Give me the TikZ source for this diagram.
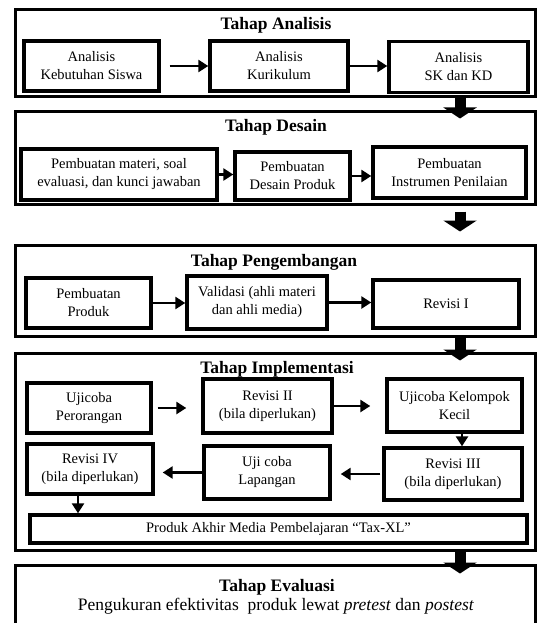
\documentclass[tikz,border=0pt]{standalone}
\usepackage{fontspec}
\setmainfont{Liberation Serif}
\usetikzlibrary{arrows.meta}
\tikzset{
  stage/.style={draw, line width=3pt, inner sep=0pt},
  stepbox/.style={draw, line width=3.4pt, align=center, inner sep=0pt,
    font=\fontsize{14.5}{18}\selectfont},
  stagetitle/.style={inner sep=0pt, font=\fontsize{17.5}{21}\selectfont\bfseries},
  flow/.style={line width=2.8pt, -{Triangle[length=10pt,width=12pt]}},
  bigflow/.style={line width=11pt, -{Triangle[length=11pt,width=33pt]}},
}

\begin{document}
\begin{tikzpicture}[x=1pt, y=-1pt]

  \clip (0,0) rectangle (539,623);
  \fill[white] (0,0) rectangle (539,623);
  \coordinate (bx) at (460,0);
  \coordinate (dx) at (462,0);

  % Stages
  \node[stage, minimum width=520pt, minimum height=87pt] (analisis) at (275,53.5) {};
  \node[stage, minimum width=520pt, minimum height=92pt] (desain) at (275,158) {};
  \node[stage, minimum width=520pt, minimum height=91pt] (pengembangan) at (275,290.5) {};
  \node[stage, minimum width=520pt, minimum height=197pt] (implementasi) at (275,451.5) {};
  \node[stage, minimum width=520pt, minimum height=94pt] (evaluasi) at (275,612) {};

  \node[stagetitle] (analisis_t) at (276,25) {Tahap Analisis};
  \node[stagetitle] (desain_t) at (276,127) {Tahap Desain};
  \node[stagetitle] (pengembangan_t) at (274,262) {Tahap Pengembangan};
  \node[stagetitle] (implementasi_t) at (277,369) {Tahap Implementasi};
  \node[stagetitle] (evaluasi_t) at (277,587) {Tahap Evaluasi};
  \node[inner sep=0pt, font=\fontsize{17.5}{21}\selectfont] (evaluasi_s) at (276,606)
    {Pengukuran efektivitas\ \ produk lewat \textit{pretest} dan \textit{postest}};

  % Analisis
  \node[stepbox, minimum width=135pt, minimum height=50pt] (kebutuhan) at (91.5,66) {Analisis\\Kebutuhan Siswa};
  \node[stepbox, minimum width=138pt, minimum height=50pt] (kurikulum) at (279,66) {Analisis\\Kurikulum};
  \node[stepbox, minimum width=139pt, minimum height=51pt] (skkd) at (458.5,67) {Analisis\\SK dan KD};

  % Desain
  \node[stepbox, minimum width=196pt, minimum height=51pt] (materi) at (119,174.5) {Pembuatan materi, soal\\evaluasi, dan kunci jawaban};
  \node[stepbox, minimum width=115pt, minimum height=48pt] (desainproduk) at (292.5,176) {Pembuatan\\Desain Produk};
  \node[stepbox, minimum width=153pt, minimum height=51pt] (instrumen) at (449.5,172.5) {Pembuatan\\Instrumen Penilaian};

  % Pengembangan
  \node[stepbox, minimum width=125pt, minimum height=50pt] (pembuatanproduk) at (88.5,303) {Pembuatan\\Produk};
  \node[stepbox, minimum width=140pt, minimum height=53pt] (validasi) at (257,302.5) {Validasi (ahli materi\\dan ahli media)};
  \node[stepbox, minimum width=146pt, minimum height=48pt] (revisi1) at (446,304) {Revisi I};

  % Implementasi
  \node[stepbox, minimum width=124pt, minimum height=50pt] (perorangan) at (89,408) {Ujicoba\\Perorangan};
  \node[stepbox, minimum width=129pt, minimum height=54pt] (revisi2) at (267.5,406) {Revisi II\\(bila diperlukan)};
  \node[stepbox, minimum width=135pt, minimum height=53pt] (kelompok) at (454.5,405.5) {Ujicoba Kelompok\\Kecil};
  \node[stepbox, minimum width=126pt, minimum height=50pt] (revisi4) at (90,469) {Revisi IV\\(bila diperlukan)};
  \node[stepbox, minimum width=126pt, minimum height=53pt] (lapangan) at (267,472.5) {Uji coba\\Lapangan};
  \node[stepbox, minimum width=138pt, minimum height=52pt] (revisi3) at (453,474) {Revisi III\\(bila diperlukan)};
  \node[stepbox, minimum width=497pt, minimum height=28pt] (produkakhir) at (278.5,529) {Produk Akhir Media Pembelajaran “Tax-XL”};

  % Arrows inside stages
  \draw[flow, shorten <=9pt] (kebutuhan.east) -- (kebutuhan.east -| kurikulum.west);
  \draw[flow] (kurikulum.east) -- (kurikulum.east -| skkd.west);
  \draw[flow] (materi.east) -- (materi.east -| desainproduk.west);
  \draw[flow] (desainproduk.east) -- (desainproduk.east -| instrumen.west);
  \draw[flow] (pembuatanproduk.east) -- (pembuatanproduk.east -| validasi.west);
  \draw[flow] (validasi.east) -- (validasi.east -| revisi1.west);
  \draw[flow, shorten <=5pt, shorten >=15pt] (perorangan.east) -- (perorangan.east -| revisi2.west);
  \draw[flow, shorten >=15pt] (revisi2.east) -- (revisi2.east -| kelompok.west);
  \draw[flow] (kelompok.south -| dx) -- (revisi3.north -| dx);
  \draw[flow, shorten <=2pt, shorten >=9pt] (revisi3.west) -- (revisi3.west -| lapangan.east);
  \draw[flow, shorten >=8pt] (lapangan.west) -- (lapangan.west -| revisi4.east);
  \draw[flow] (revisi4.south -| 78,0) -- (produkakhir.north -| 78,0);

  % Arrows between stages
  \draw[bigflow, shorten >=-8pt] (analisis.south -| bx) -- (desain.north -| bx);
  \draw[bigflow, shorten <=6pt, shorten >=12pt] (desain.south -| bx) -- (pengembangan.north -| bx);
  \draw[bigflow, shorten >=-9pt] (pengembangan.south -| bx) -- (implementasi.north -| bx);
  \draw[bigflow, shorten >=-10pt] (implementasi.south -| bx) -- (evaluasi.north -| bx);

\end{tikzpicture}
\end{document}
